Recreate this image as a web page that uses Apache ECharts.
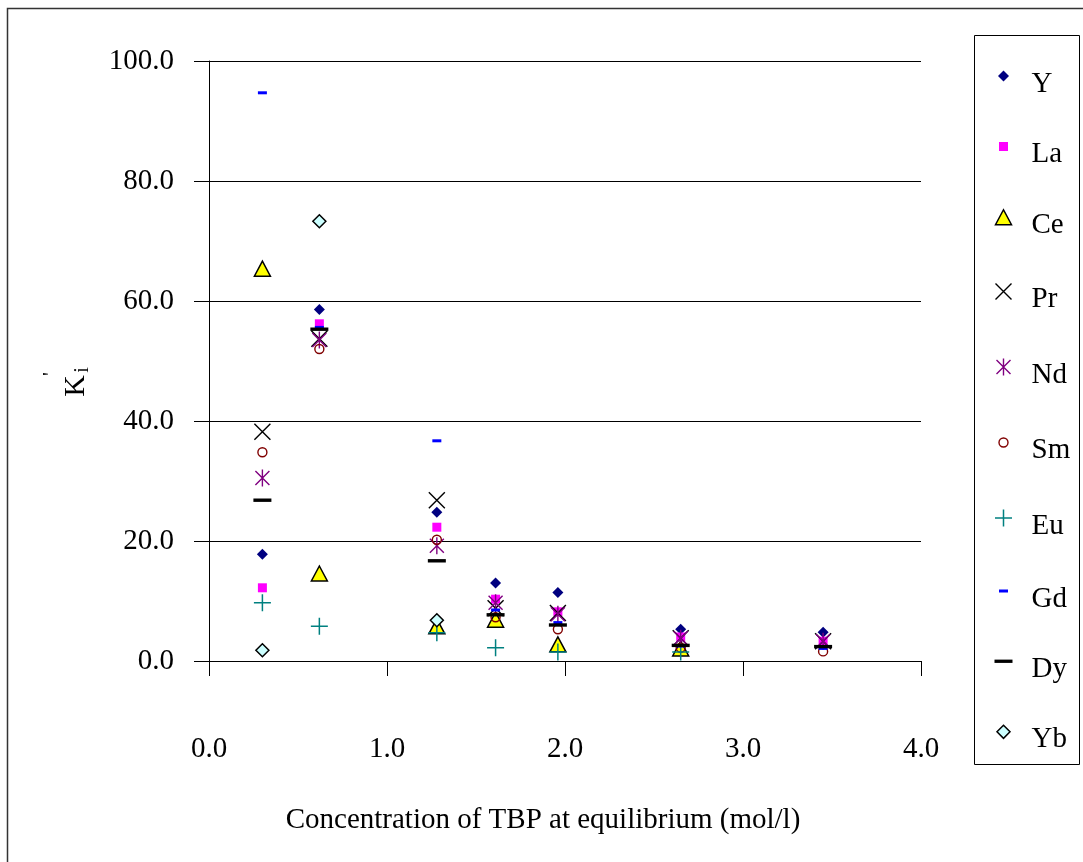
<!DOCTYPE html>
<html>
<head>
<meta charset="utf-8">
<script src="https://cdn.jsdelivr.net/npm/echarts@6/dist/echarts.min.js"></script>
<style>
  html, body { margin: 0; padding: 0; background: #fff; }
  #container { width: 1083px; height: 862px; }
</style>
</head>
<body>
<div id="container"></div>
<script>
// TBP concentration at equilibrium (mol/l)
var tbp = [0.30, 0.62, 1.28, 1.61, 1.96, 2.65, 3.45];

// K'i per element, null = no point
var valY  = [17.8, 58.6, 24.8, 13.0, 11.4, 5.3, 4.8];
var valLa = [12.2, 56.2, 22.3, 10.3, 8.2, 4.0, 3.3];
var valCe = [65.3, 14.5, 5.7, 6.8, 2.7, 2.0, null];
var valPr = [38.2, 53.7, 26.8, 8.8, 8.0, 3.8, 3.3];
var valNd = [30.5, 53.5, 19.2, 9.7, 7.8, 3.8, 3.3];
var valSm = [34.8, 52.0, 20.2, 7.3, 5.3, 2.2, 1.6];
var valEu = [9.7, 5.8, 4.7, 2.2, 1.5, 1.5, null];
var valGd = [94.7, 55.6, 36.7, 8.5, 6.4, 2.5, 2.1];
var valDy = [26.8, 55.3, 16.7, 7.7, 6.0, 2.6, 2.4];
var valYb = [1.8, 73.3, 6.8, null, null, null, null];

var yTicks = [0, 20, 40, 60, 80, 100];
var xTicks = [0, 1, 2, 3, 4];

var font = '"Liberation Serif", "DejaVu Serif", serif';

// symbol shapes drawn inside an 18x18 box
var shapes = {
  Y:  'M9,3.5L14.5,9L9,14.5L3.5,9Z',
  La: 'M4.5,4.5H13.5V13.5H4.5Z',
  Ce: 'M9,1L17,16H1Z',
  Pr: 'M1,1L17,17M17,1L1,17',
  Nd: 'M2,2L16,16M16,2L2,16M9,0.5V17.5',
  Sm: 'M4.5,9A4.5,4.5,0,1,1,13.5,9A4.5,4.5,0,1,1,4.5,9Z',
  Eu: 'M9,0.5V17.5M0.5,9H17.5',
  Gd: 'M4.5,7.5H13.5V10.5H4.5Z',
  Dy: 'M0,7.3H18.5V10.7H0Z',
  Yb: 'M9,2.5L15.5,9L9,15.5L2.5,9Z'
};

var elements = [
  { name: 'Y',  data: valY,  color: '#000080', border: null, bw: 0 },
  { name: 'La', data: valLa, color: '#FF00FF', border: null, bw: 0 },
  { name: 'Ce', data: valCe, color: '#FFFF00', border: '#000', bw: 1.5 },
  { name: 'Pr', data: valPr, color: 'none', border: '#000', bw: 1.4 },
  { name: 'Nd', data: valNd, color: 'none', border: '#800080', bw: 1.4 },
  { name: 'Sm', data: valSm, color: 'none', border: '#800000', bw: 1.4 },
  { name: 'Eu', data: valEu, color: 'none', border: '#008080', bw: 1.5 },
  { name: 'Gd', data: valGd, color: '#0000FF', border: null, bw: 0 },
  { name: 'Dy', data: valDy, color: '#000', border: null, bw: 0 },
  { name: 'Yb', data: valYb, color: '#CCFFFF', border: '#000', bw: 1.5 }
];

var series = elements.map(function (el) {
  var pts = [];
  for (var i = 0; i < tbp.length; i++) {
    if (el.data[i] != null) pts.push([tbp[i], el.data[i]]);
  }
  return {
    name: el.name,
    type: 'scatter',
    // M0,0M18,18 fixes the frame so all marks share one scale
    symbol: 'path://M0,0M18,18' + shapes[el.name],
    symbolSize: 18,
    data: pts,
    itemStyle: {
      color: el.color,
      borderColor: el.border || el.color,
      borderWidth: el.bw,
      opacity: 1
    },
    emphasis: { disabled: true }
  };
});

// legend icons sit a bit above the text centre, so the frame is taller
var legendData = elements.map(function (el) {
  return {
    name: el.name,
    icon: 'path://M0,0M18,34' + shapes[el.name],
    itemStyle: {
      color: el.color,
      borderColor: el.border || el.color,
      borderWidth: el.bw
    }
  };
});

var dom = document.getElementById('container');
var myChart = echarts.init(dom);

myChart.setOption({
  backgroundColor: '#fff',
  animation: false,
  grid: { left: 209, right: 162, top: 61, bottom: 201, containLabel: false },
  xAxis: {
    type: 'value',
    min: 0,
    max: 4,
    interval: 1,
    axisLine: { show: true, onZero: false, lineStyle: { color: '#000', width: 1 } },
    axisTick: { show: true, length: 15, lineStyle: { color: '#000' } },
    splitLine: { show: false },
    axisLabel: {
      margin: 74,
      color: '#000',
      fontFamily: font,
      fontSize: 29,
      formatter: function (v) { return v.toFixed(1); }
    }
  },
  yAxis: {
    type: 'value',
    min: 0,
    max: 100,
    interval: 20,
    axisLine: { show: true, lineStyle: { color: '#000', width: 1 } },
    axisTick: { show: true, length: 15, lineStyle: { color: '#000' } },
    splitLine: { show: true, lineStyle: { color: '#000', width: 1 } },
    axisLabel: {
      margin: 35,
      color: '#000',
      fontFamily: font,
      fontSize: 29,
      formatter: function (v) { return v.toFixed(1); }
    }
  },
  legend: {
    orient: 'vertical',
    left: 992,
    top: 67,
    padding: 0,
    itemWidth: 18,
    itemHeight: 34,
    itemGap: 36.5,
    selectedMode: false,
    data: legendData,
    textStyle: {
      fontFamily: font,
      fontSize: 29,
      color: '#000',
      lineHeight: 30,
      padding: [0, 0, 0, 14]
    }
  },
  graphic: [
    // outer chart border
    { type: 'rect', shape: { x: 7.5, y: 8.5, width: 1100, height: 900 },
      style: { fill: 'none', stroke: '#333', lineWidth: 1.5 }, silent: true, z: -1 },
    // legend box
    { type: 'rect', shape: { x: 974.5, y: 35.5, width: 105, height: 729 },
      style: { fill: 'none', stroke: '#000', lineWidth: 1 }, silent: true },
    // x axis title
    { type: 'text', style: {
        text: 'Concentration of TBP at equilibrium (mol/l)', x: 543, y: 820,
        fill: '#000', font: '29px ' + font, textAlign: 'center', textVerticalAlign: 'middle' } },
    // y axis title K'i (rotated)
    { type: 'group', x: 76, y: 386, rotation: Math.PI / 2, children: [
        { type: 'text', style: { text: 'K', x: 0, y: 0, fill: '#000', font: '30px ' + font,
            textAlign: 'center', textVerticalAlign: 'middle' } },
        { type: 'text', style: { text: 'i', x: 16, y: 7, fill: '#000', font: '20px ' + font,
            textAlign: 'center', textVerticalAlign: 'middle' } },
        { type: 'text', style: { text: '\'', x: 12, y: -25, fill: '#000', font: '22px ' + font,
            textAlign: 'center', textVerticalAlign: 'middle' } }
    ] }
  ],
  series: series
});
</script>
</body>
</html>
